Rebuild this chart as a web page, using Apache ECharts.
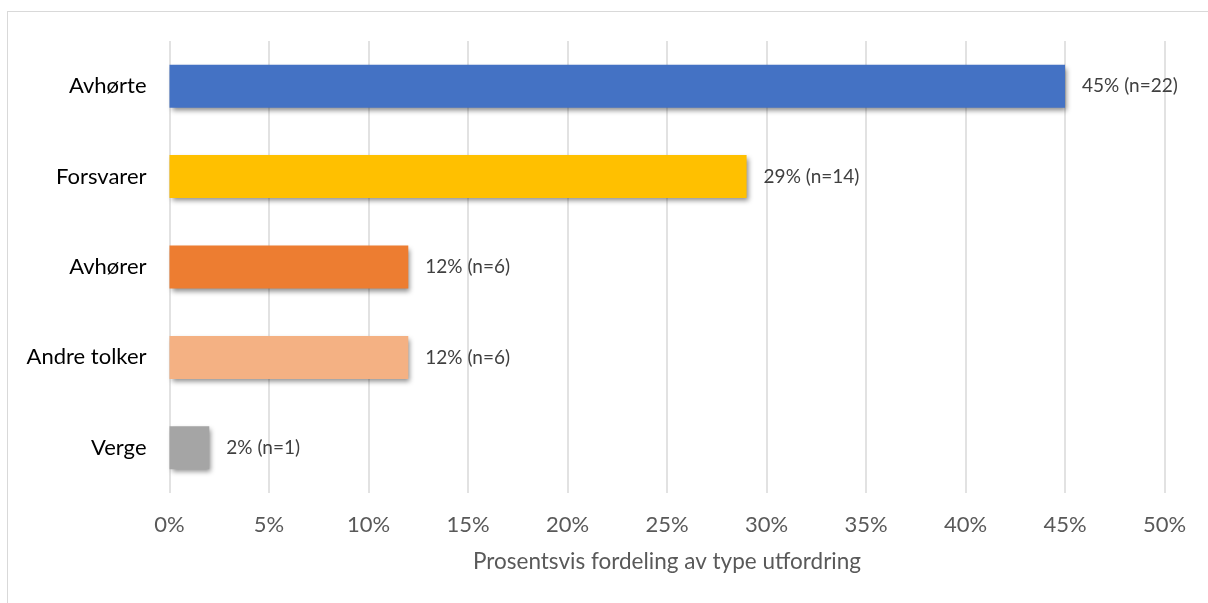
<!DOCTYPE html>
<html>
<head>
<meta charset="utf-8">
<style>
html,body{margin:0;padding:0;background:#fff;}
#frame{position:absolute;left:7px;top:11px;width:1300px;height:700px;border:1px solid #D9D9D9;box-sizing:border-box;}
#chart{position:absolute;left:0;top:0;width:1208px;height:603px;}
</style>
<script src="https://cdn.jsdelivr.net/npm/echarts@6/dist/echarts.min.js"></script>
</head>
<body>
<div id="frame"></div>
<div id="chart"></div>
<script>
const categories = ['Avhørte', 'Forsvarer', 'Avhører', 'Andre tolker', 'Verge'];
const percents = [45, 29, 12, 12, 2];
const counts = [22, 14, 6, 6, 1];
const colors = ['#4472C4', '#FFC000', '#ED7D31', '#F4B183', '#A5A5A5'];
const xTicks = [0, 5, 10, 15, 20, 25, 30, 35, 40, 45, 50];
const axisTitle = 'Prosentsvis fordeling av type utfordring';

const font = 'Lato, "Open Sans", sans-serif';
const chart = echarts.init(document.getElementById('chart'), null, {renderer: 'canvas'});
chart.setOption({
  backgroundColor: 'transparent',
  animation: false,
  grid: {left: 169.5, right: 43.5, top: 41, bottom: 110, containLabel: false},
  xAxis: {
    type: 'value',
    min: xTicks[0], max: xTicks[xTicks.length - 1], interval: 5,
    axisLine: {show: false},
    axisTick: {show: false},
    splitLine: {show: true, lineStyle: {color: '#D9D9D9', width: 1.5}},
    axisLabel: {formatter: v => v + '%', color: '#595959', fontFamily: font, fontSize: 22, margin: 21},
    name: axisTitle,
    nameLocation: 'middle',
    nameGap: 57,
    nameTextStyle: {color: '#595959', fontFamily: font, fontSize: 22.5}
  },
  yAxis: {
    type: 'category',
    data: categories,
    inverse: true,
    axisLine: {show: false},
    axisTick: {show: false},
    splitLine: {show: false},
    axisLabel: {color: '#000000', fontFamily: font, fontSize: 22, margin: 23}
  },
  series: [{
    type: 'bar',
    data: percents.map((v, i) => ({value: v, itemStyle: {color: colors[i]}})),
    barWidth: 43,
    itemStyle: {shadowColor: 'rgba(0,0,0,0.45)', shadowBlur: 5, shadowOffsetX: 2, shadowOffsetY: 3},
    label: {
      show: true, position: 'right', distance: 17,
      color: '#404040', fontFamily: font, fontSize: 19,
      formatter: p => percents[p.dataIndex] + '% (n=' + counts[p.dataIndex] + ')'
    }
  }]
});
</script>
</body>
</html>
